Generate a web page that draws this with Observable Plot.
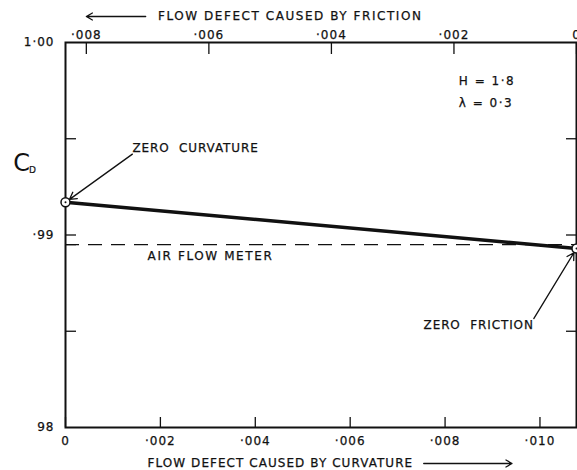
<!DOCTYPE html>
<html>
<head>
<meta charset="utf-8">
<script src="https://cdn.jsdelivr.net/npm/d3@7"></script>
<script src="https://cdn.jsdelivr.net/npm/@observablehq/plot@0.6"></script>
<style>
  html, body { margin: 0; padding: 0; background: #fff; overflow: hidden; }
</style>
</head>
<body>
<div id="chart"></div>
<script>
// Discharge coefficient C_D against flow defect (H = 1.8, lambda = 0.3)
const curvatureTicks = [0, 0.002, 0.004, 0.006, 0.008, 0.010];
const frictionTicks = [0.008, 0.006, 0.004, 0.002, 0];
const cdTicks = [0.98, 0.99, 1.00];
const cdTickLabels = ["98", "·99", "1·00"];
const cdMinorTicks = [0.985, 0.995];

// end points of the C_D line: zero curvature (left) and zero friction (right)
const curvatureDefect = [0, 0.01077];
const cdValues = [0.9917, 0.9893];
const airFlowMeterCd = 0.9895;

// total defect is shared: friction falls to zero as curvature reaches its maximum
const CURV_MAX = 0.01077;
const FRIC_MAX = 0.00834;
const frictionToCurvature = f => CURV_MAX * (1 - f / FRIC_MAX);
const curvatureToFriction = c => FRIC_MAX * (1 - c / CURV_MAX);

const fmtDefect = v => {
  const r = Math.round(v * 1000) / 1000;
  return r === 0 ? "0" : d3.format(".3f")(r).replace(/^0\./, "·");
};

const line = curvatureDefect.map((c, i) => ({c, cd: cdValues[i]}));
const ink = "#111";
const font = "DejaVu Sans, Verdana, sans-serif";

// stencil-like lettering: text marks tagged with their letter spacing
const label = (str, x, y, spacing, extra = {}) =>
  Plot.text([str], {
    x, y, text: d => d, textAnchor: "start",
    fontSize: 12, fill: ink, stroke: ink, strokeWidth: 0.25,
    ariaDescription: `spacing ${spacing}`, ...extra
  });

const chart = Plot.plot({
  width: 577,
  height: 470,
  marginLeft: 65,
  marginRight: 1,
  marginTop: 42,
  marginBottom: 43,
  x: {domain: [0, CURV_MAX]},
  y: {domain: [0.98, 1.00]},
  style: {fontFamily: font, fontSize: "12px", color: ink, background: "#fff"},
  marks: [
    // bottom axis: curvature defect, ticks pointing inward
    Plot.axisX(curvatureTicks, {
      anchor: "bottom", label: null, tickSize: -10, tickPadding: 19, strokeWidth: 1.3,
      tickFormat: fmtDefect, fontSize: 12
    }),
    // top axis: friction defect on the same frame
    Plot.axisX(frictionTicks.map(frictionToCurvature), {
      anchor: "top", label: null, tickSize: -11, tickPadding: 15, strokeWidth: 1.3,
      tickFormat: c => fmtDefect(curvatureToFriction(c)), fontSize: 12
    }),
    // left axis with labelled and minor ticks
    Plot.axisY(cdTicks, {
      anchor: "left", label: null, tickSize: 0, tickPadding: 11,
      tickFormat: (d, i) => cdTickLabels[i], fontSize: 12
    }),
    Plot.axisY([...cdMinorTicks, 0.99, airFlowMeterCd], {
      anchor: "left", label: null, tickSize: -11, strokeWidth: 1.3, tickFormat: () => ""
    }),
    Plot.axisY([...cdMinorTicks, 0.99], {
      anchor: "right", label: null, tickSize: -11, strokeWidth: 1.3, tickFormat: () => ""
    }),
    Plot.frame({stroke: ink, strokeWidth: 2}),

    // air flow meter reference
    Plot.ruleY([airFlowMeterCd], {stroke: ink, strokeWidth: 1.4, strokeDasharray: "14,9"}),

    // computed C_D
    Plot.line(line, {x: "c", y: "cd", stroke: ink, strokeWidth: 3.4}),
    Plot.dot(line, {x: "c", y: "cd", r: 4.5, stroke: ink, fill: "#fff", strokeWidth: 1.5}),
    Plot.dot(line, {x: "c", y: "cd", r: 1, fill: ink}),

    // annotations
    label("ZERO  CURVATURE", 0.00141, 0.99449, 0.9),
    Plot.arrow([0], {x1: 0.00141, y1: 0.9942, x2: curvatureDefect[0], y2: cdValues[0], insetEnd: 5, stroke: ink, strokeWidth: 1.3, headLength: 9}),
    label("ZERO  FRICTION", 0.00987, 0.9853, 0.9, {textAnchor: "end"}),
    Plot.arrow([0], {x1: 0.00987, y1: 0.98566, x2: curvatureDefect[1], y2: cdValues[1], insetEnd: 5, stroke: ink, strokeWidth: 1.3, headLength: 9}),
    label("AIR FLOW METER", 0.00173, 0.98888, 1.6),
    label("H = 1·8", 0.00829, 0.99797, 1.5),
    label("λ = 0·3", 0.00829, 0.99683, 1.5),

    // axis titles with direction arrows
    label("FLOW DEFECT CAUSED BY FRICTION", 0.00195, 1.00, 1.55, {dy: -26}),
    Plot.arrow([0], {x1: 0.00169, x2: 0.00044, y1: 1.00, y2: 1.00, dy: -26, stroke: ink, strokeWidth: 1.3, headLength: 8}),
    label("FLOW DEFECT CAUSED BY CURVATURE", 0.00173, 0.98, 1.05, {dy: 36}),
    Plot.arrow([0], {x1: 0.00755, x2: 0.00941, y1: 0.98, y2: 0.98, dy: 36, stroke: ink, strokeWidth: 1.3, headLength: 8}),

    // C_D label
    Plot.text(["C"], {x: 0, y: 0.9937, dx: -44, text: d => d, fontSize: 24, fill: ink}),
    Plot.text(["D"], {x: 0, y: 0.9937, dx: -33, dy: 6, text: d => d, fontSize: 9, fill: ink, stroke: ink, strokeWidth: 0.2})
  ]
});

// apply the letter spacing of each tagged label
chart.querySelectorAll("[aria-description^='spacing ']").forEach(g => {
  g.setAttribute("letter-spacing", g.getAttribute("aria-description").split(" ")[1]);
});
chart.querySelectorAll("g[aria-label$='tick label']").forEach(g => {
  g.setAttribute("letter-spacing", 1.0);
  g.setAttribute("stroke", ink);
  g.setAttribute("stroke-width", 0.25);
});

document.getElementById("chart").appendChild(chart);
</script>
</body>
</html>
